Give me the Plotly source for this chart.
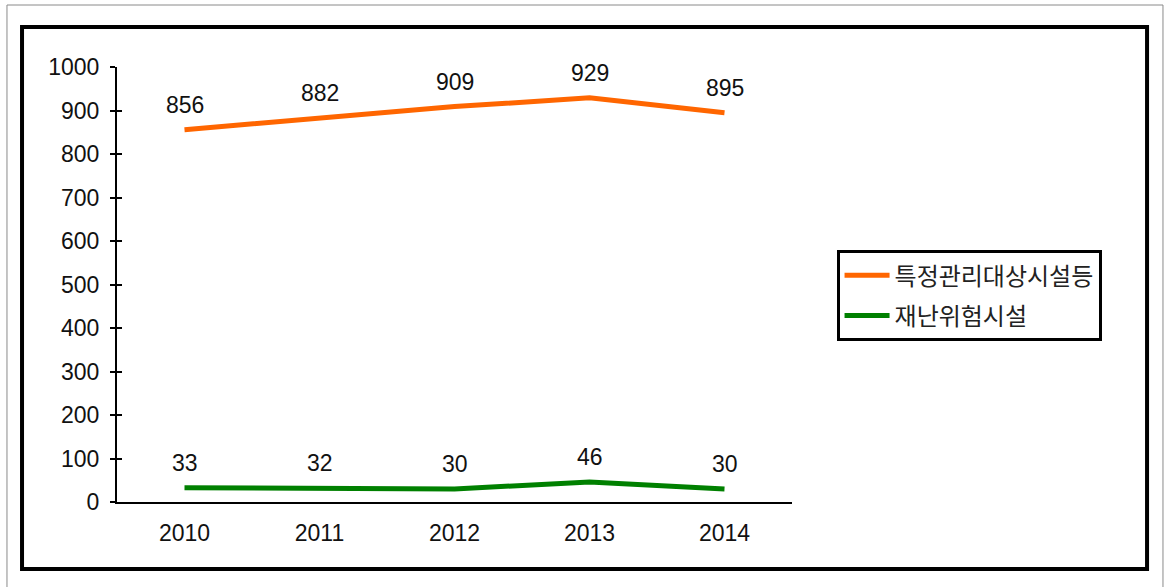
import plotly.graph_objects as go

years = ["2010", "2011", "2012", "2013", "2014"]
facilities = [856, 882, 909, 929, 895]
hazards = [33, 32, 30, 46, 30]
y_ticks = [0, 100, 200, 300, 400, 500, 600, 700, 800, 900, 1000]

NUM_FONT = "Liberation Sans"
KR_FONT = "Noto Sans CJK KR"

fig = go.Figure()

fig.add_trace(
    go.Scatter(
        x=years, y=facilities, name="특정관리대상시설등", mode="lines",
        line=dict(color="#FF6600", width=5), legendgroup="a",
    )
)
fig.add_trace(
    go.Scatter(
        x=years, y=hazards, name="재난위험시설", mode="lines",
        line=dict(color="#008000", width=5), legendgroup="b",
    )
)
# invisible trace on a twin y axis just to get the inside half of the ticks
fig.add_trace(
    go.Scatter(x=years, y=facilities, yaxis="y2", mode="lines",
               line=dict(width=0), showlegend=False, hoverinfo="skip")
)

# data labels (category index so "2010" isn't read as position 2010)
for series in (facilities, hazards):
    for i, y in enumerate(series):
        fig.add_annotation(
            x=i, y=y, text=str(y), showarrow=False, yanchor="middle", yshift=25,
            font=dict(family=NUM_FONT, size=23, color="#111"),
        )

# outer gray frame and inner black frame
fig.add_shape(type="rect", xref="paper", yref="paper",
              x0=-0.163, x1=1.5496, y0=-0.3, y1=1.1425,
              line=dict(color="#8a8a8a", width=1), layer="below")
fig.add_shape(type="rect", xref="paper", yref="paper",
              x0=-0.1407, x1=1.526, y0=-0.154, y1=1.092,
              line=dict(color="black", width=4), layer="below")

fig.update_layout(
    width=1171,
    height=587,
    margin=dict(l=117, r=379, t=67, b=85),
    paper_bgcolor="white",
    plot_bgcolor="white",
    showlegend=True,
    legend=dict(
        x=1.066, y=0.579, xanchor="left", yanchor="top",
        bordercolor="black", borderwidth=3, bgcolor="white",
        font=dict(family=KR_FONT, size=24, color="#222"),
        tracegroupgap=6,
        traceorder="grouped",
        itemwidth=45,
    ),
    xaxis=dict(
        type="category", range=[-0.5, 4.5],
        showline=True, linecolor="black", linewidth=2,
        showgrid=False, zeroline=False, ticks="",
        ticklabelstandoff=9,
        tickfont=dict(family=NUM_FONT, size=23, color="#111"),
    ),
    yaxis=dict(
        range=[0, 1000], tickvals=y_ticks,
        showline=True, linecolor="black", linewidth=2,
        showgrid=False, zeroline=False,
        ticks="outside", ticklen=5, tickwidth=2, tickcolor="black",
        ticklabelstandoff=6,
        tickfont=dict(family=NUM_FONT, size=23, color="#111"),
    ),
    yaxis2=dict(
        overlaying="y", anchor="x", side="left", range=[0, 1000], tickvals=y_ticks,
        showline=False, showgrid=False, zeroline=False, showticklabels=False,
        ticks="inside", ticklen=5, tickwidth=2, tickcolor="black",
    ),
)

fig.write_html(
    "out.html",
    config={"displayModeBar": False},
    post_script="document.body.style.margin='0';",
)
